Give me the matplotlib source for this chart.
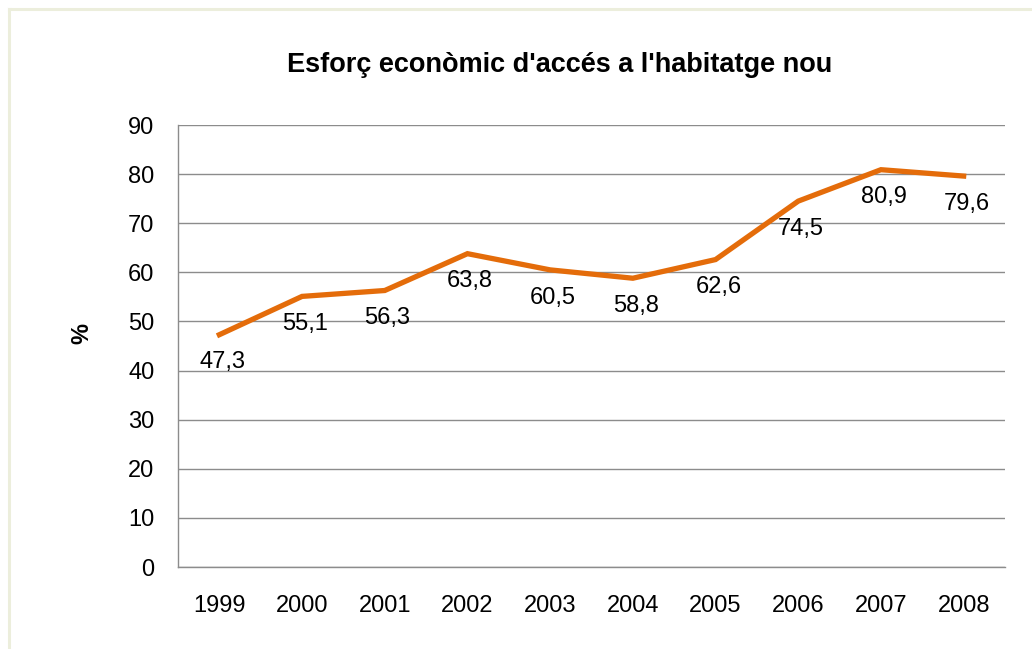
import matplotlib.pyplot as plt
from matplotlib.lines import Line2D

plt.rcParams['font.family'] = ['Liberation Sans', 'DejaVu Sans']

# data
years = ['1999', '2000', '2001', '2002', '2003', '2004', '2005', '2006', '2007', '2008']
effort = [47.3, 55.1, 56.3, 63.8, 60.5, 58.8, 62.6, 74.5, 80.9, 79.6]
y_ticks = [0, 10, 20, 30, 40, 50, 60, 70, 80, 90]

W, H = 1032, 649
fig = plt.figure(figsize=(W / 100, H / 100), dpi=100)
fig.patch.set_facecolor('white')

# light outer frame (top and left edges visible)
frame_col = '#ECEEDC'
fig.add_artist(Line2D([9 / W, 9 / W], [0, 1 - 9 / H], color=frame_col, lw=2.2, transform=fig.transFigure))
fig.add_artist(Line2D([9 / W, 1], [1 - 9 / H, 1 - 9 / H], color=frame_col, lw=2.2, transform=fig.transFigure))

ax = fig.add_axes([178 / W, 1 - 567 / H, (1005 - 178) / W, (567 - 125) / H])

x = list(range(len(years)))
ax.plot(x, effort, color='#E46C0A', lw=3.8, solid_joinstyle='miter', zorder=3)

fs = 17
for xi, v in zip(x, effort):
    ax.annotate(f'{v:.1f}'.replace('.', ','), (xi, v), xytext=(2, -20),
                textcoords='offset points', ha='center', va='center', fontsize=fs)

ax.set_xlim(-0.5, len(years) - 0.5)
ax.set_ylim(0, 90)
ax.set_yticks(y_ticks)
ax.set_xticks(x)
ax.set_xticklabels(years)
ax.tick_params(axis='both', length=0, labelsize=fs)
ax.tick_params(axis='y', pad=17)
ax.tick_params(axis='x', pad=20)

ax.grid(axis='y', color='#8C8C8C', lw=1)
ax.set_axisbelow(True)
for s in ['top', 'right']:
    ax.spines[s].set_visible(False)
for s in ['left', 'bottom']:
    ax.spines[s].set_color('#8C8C8C')
    ax.spines[s].set_linewidth(1)

fig.text(560 / W, 1 - 65 / H, "Esforç econòmic d'accés a l'habitatge nou",
         ha='center', va='center', fontsize=19.5, fontweight='bold')
fig.text(82 / W, 1 - 333 / H, '%', ha='center', va='center', rotation=90,
         fontsize=17, fontweight='bold')

fig.savefig('out.png', dpi=100)
